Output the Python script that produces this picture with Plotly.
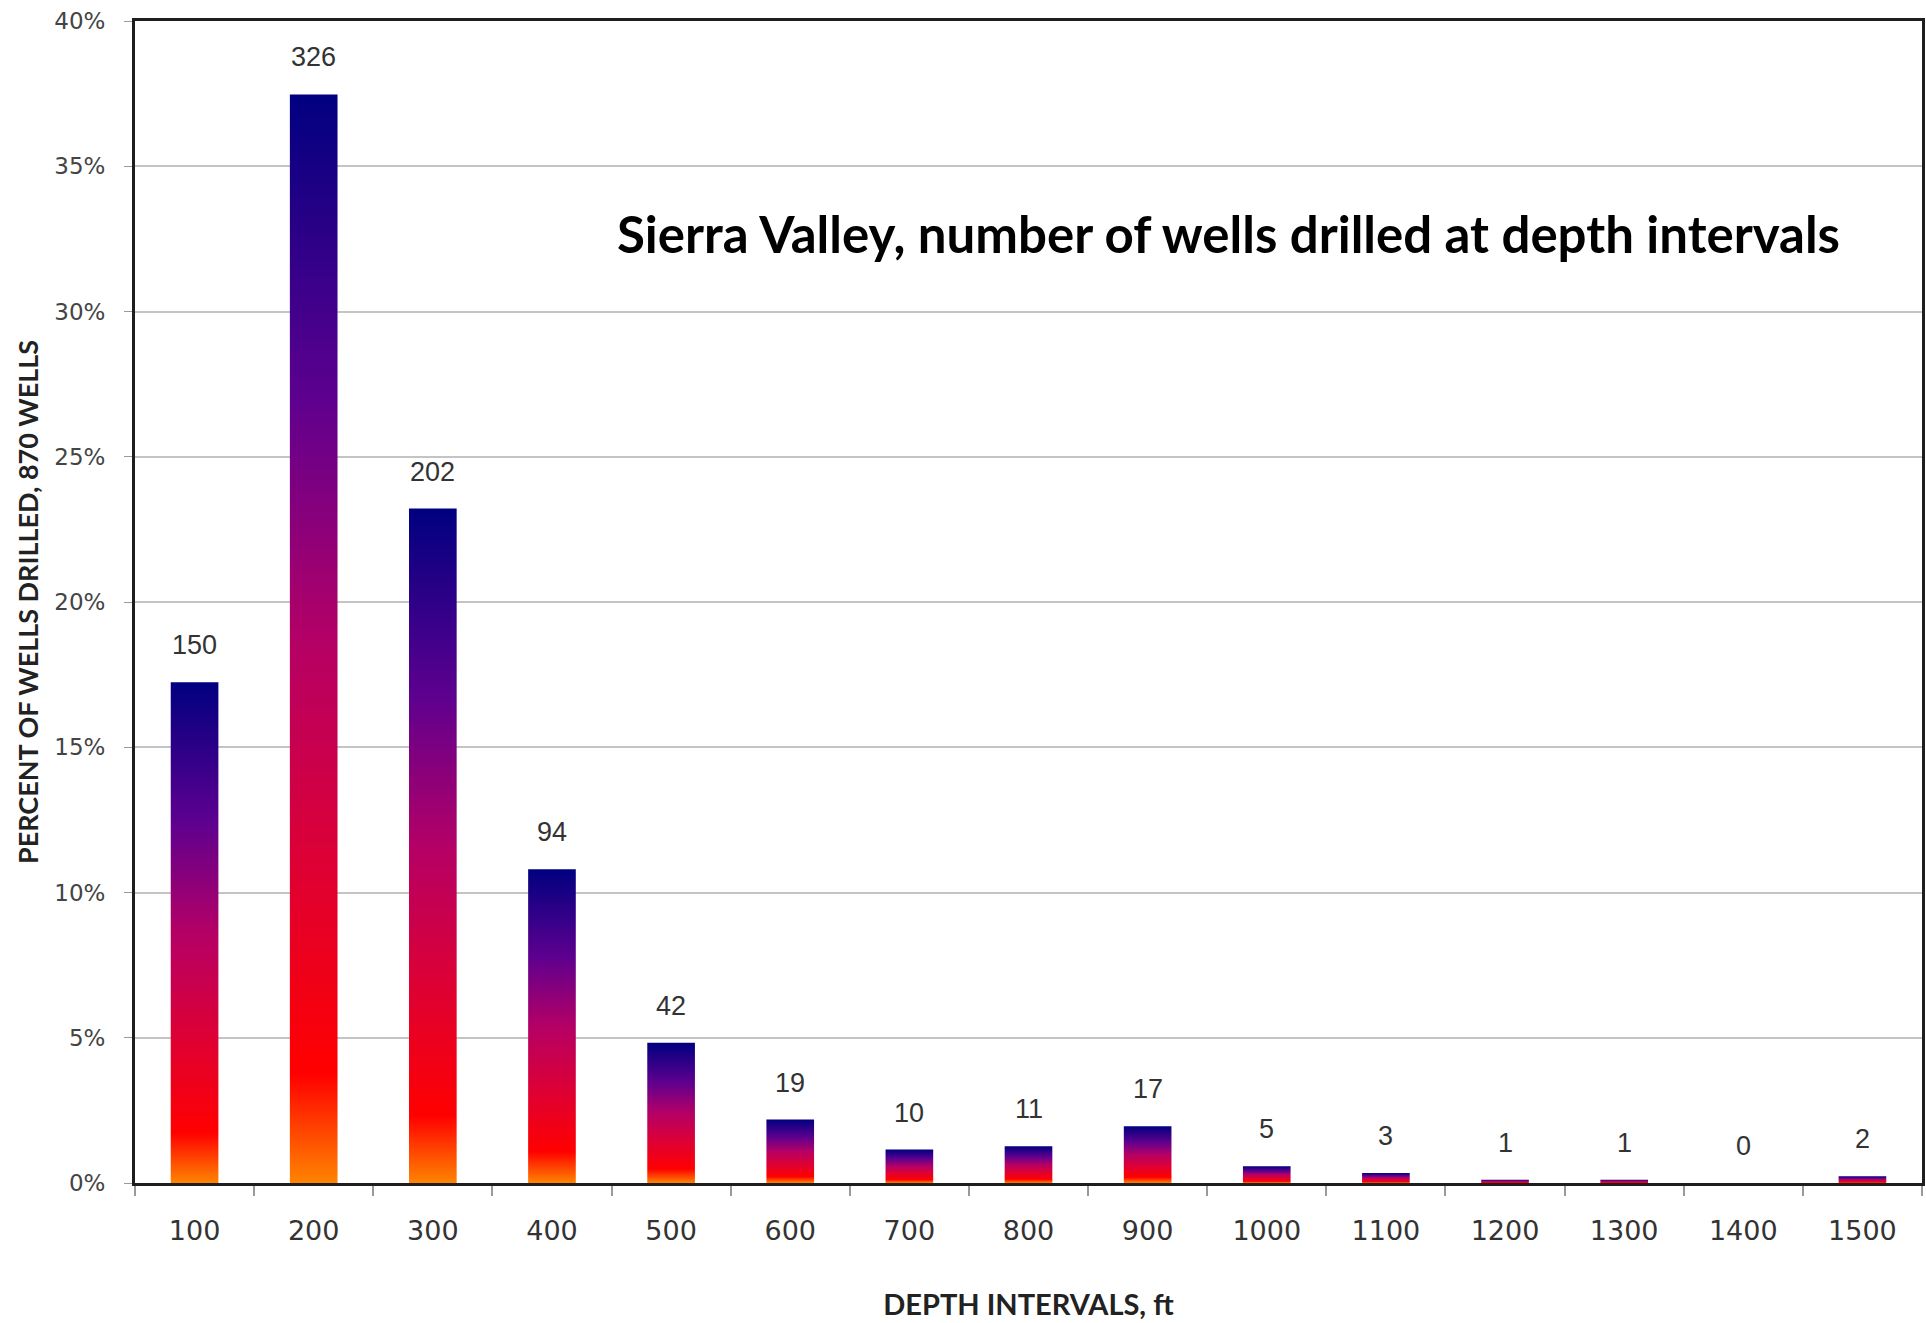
import plotly.graph_objects as go

# ---- data ----
depth_labels = ["100", "200", "300", "400", "500", "600", "700", "800",
                "900", "1000", "1100", "1200", "1300", "1400", "1500"]
wells_drilled = [150, 326, 202, 94, 42, 19, 10, 11, 17, 5, 3, 1, 1, 0, 2]
TOTAL_WELLS = 870
y_tick_values = [0, 5, 10, 15, 20, 25, 30, 35, 40]
y_tick_labels = ["0%", "5%", "10%", "15%", "20%", "25%", "30%", "35%", "40%"]

percent = [w / TOTAL_WELLS * 100 for w in wells_drilled]

BAR_W = 0.4
gradient = [
    [0.0, "#ff8400"],
    [0.1, "#ff0000"],
    [0.3, "#dc0036"],
    [0.5, "#b40066"],
    [0.72, "#5e008f"],
    [1.0, "#000080"],
]

fig = go.Figure()
for i, (lab, p, w) in enumerate(zip(depth_labels, percent, wells_drilled)):
    if p <= 0:
        continue
    x0, x1 = i - BAR_W / 2, i + BAR_W / 2
    fig.add_trace(go.Scatter(
        x=[x0, x1, x1, x0, x0], y=[0, 0, p, p, 0],
        mode="none", fill="toself",
        fillgradient=dict(type="vertical", colorscale=gradient),
        name=lab, showlegend=False, hoverinfo="skip",
    ))

# value labels
for i, (p, w) in enumerate(zip(percent, wells_drilled)):
    fig.add_annotation(
        x=i, y=p, xref="x", yref="y", text=str(w), showarrow=False,
        yanchor="bottom", yshift=20,
        font=dict(family="Liberation Sans, Arial", size=27, color="#333333"),
    )

fig.add_annotation(
    x=0.612, y=0.817, xref="paper", yref="paper",
    text="<b>Sierra Valley, number of wells drilled at depth intervals</b>",
    showarrow=False, xanchor="center", yanchor="middle",
    font=dict(family="Lato", size=51, color="#000000"),
)

fig.update_layout(
    width=1926, height=1323,
    margin=dict(l=135, r=4, t=21, b=140),
    paper_bgcolor="white", plot_bgcolor="white",
    showlegend=False,
)

fig.update_xaxes(
    automargin=False,
    range=[-0.5, 14.5],
    tickmode="array", tickvals=list(range(len(depth_labels))), ticktext=depth_labels,
    ticks="outside", ticklen=22, tickcolor="rgba(0,0,0,0)",
    tickfont=dict(family="DejaVu Sans", size=27, color="#333333"),
    minor=dict(tickmode="array", tickvals=[i - 0.5 for i in range(len(depth_labels) + 1)],
               ticks="outside", ticklen=10, tickcolor="#999999", tickwidth=1.5, showgrid=False),
    showgrid=False, zeroline=False,
    showline=True, linecolor="#1e1e1e", linewidth=3, mirror=True,
    title=dict(text="<b>DEPTH INTERVALS, ft</b>", standoff=50,
               font=dict(family="Lato", size=29, color="#222222")),
)

fig.update_yaxes(
    automargin=False,
    range=[0, 40],
    tickmode="array", tickvals=y_tick_values, ticktext=y_tick_labels,
    ticks="outside", ticklen=8, tickcolor="#999999",
    ticklabelstandoff=14,
    tickfont=dict(family="DejaVu Sans", size=23, color="#444444"),
    showgrid=True, gridcolor="#c4c4c4", gridwidth=1.5,
    zeroline=False,
    showline=True, linecolor="#1e1e1e", linewidth=3, mirror=True,
    title=dict(text="<b>PERCENT OF WELLS DRILLED, 870 WELLS</b>", standoff=8,
               font=dict(family="Lato", size=27, color="#222222")),
)

fig.write_html("out.html", config={"displayModeBar": False},
               post_script="document.body.style.margin='0';")
